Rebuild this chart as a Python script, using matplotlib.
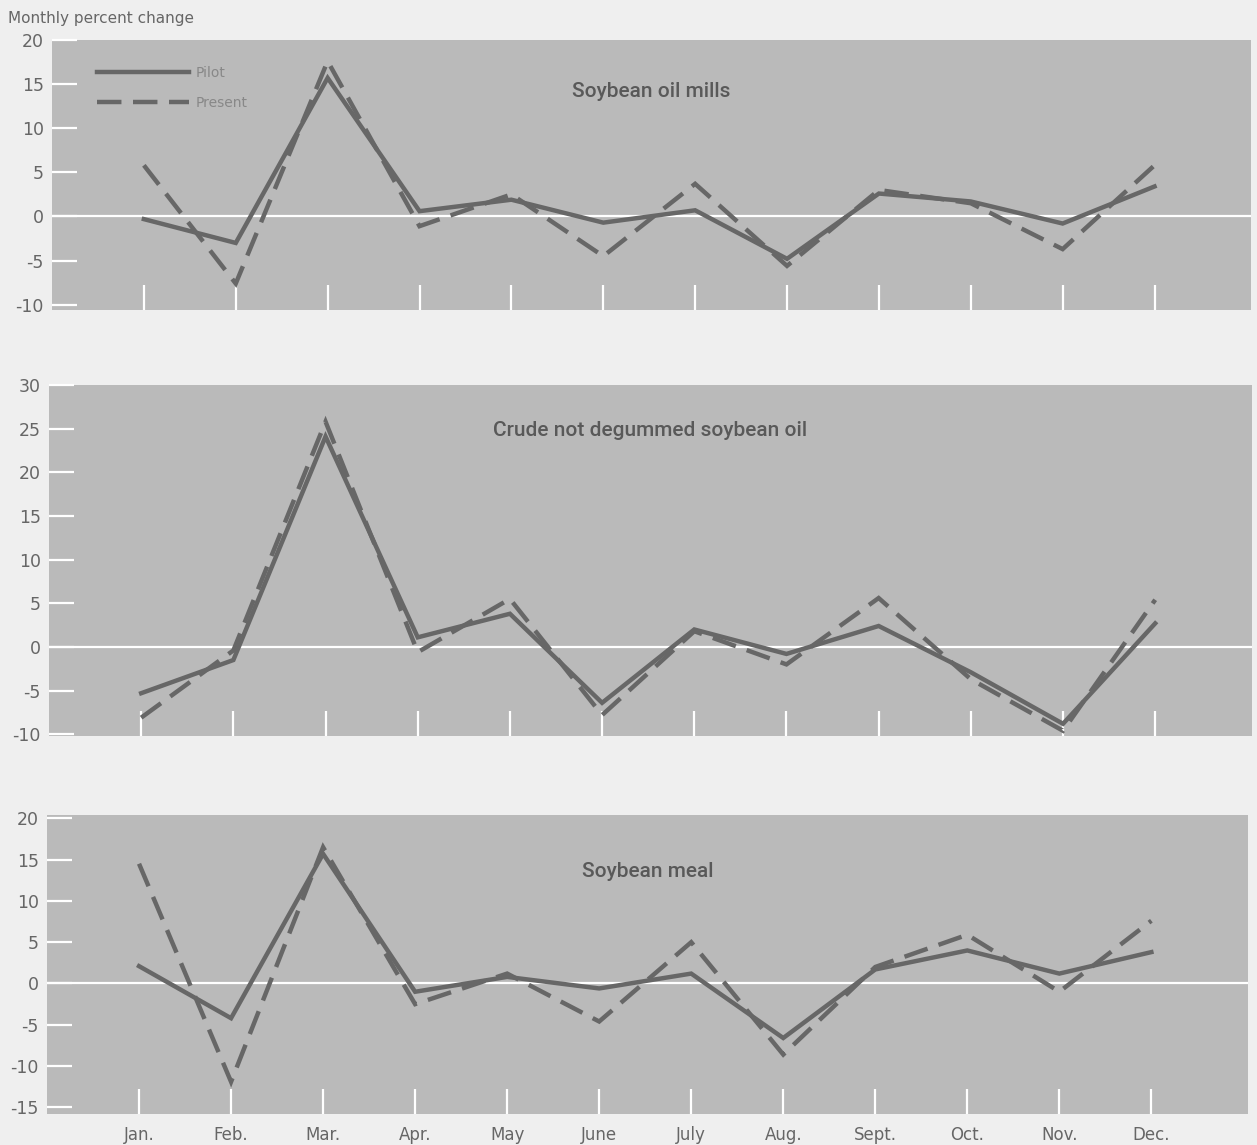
import matplotlib
matplotlib.use("Agg")
import matplotlib.pyplot as plt

# Month labels and series (monthly percent change)
months = ["Jan.", "Feb.", "Mar.", "Apr.", "May", "June",
          "July", "Aug.", "Sept.", "Oct.", "Nov.", "Dec."]

mills_pilot = [-0.3, -3.0, 15.7, 0.6, 1.9, -0.7, 0.7, -4.8, 2.6, 1.7, -0.8, 3.4]
mills_present = [5.8, -7.6, 17.6, -1.1, 2.5, -4.5, 3.7, -5.6, 3.0, 1.5, -3.7, 5.8]

crude_pilot = [-5.3, -1.5, 24.1, 1.1, 3.8, -6.4, 2.0, -0.8, 2.4, -2.9, -8.8, 2.7]
crude_present = [-8.1, -0.4, 25.8, -0.6, 5.5, -7.8, 1.8, -2.0, 5.6, -3.7, -9.6, 5.4]

meal_pilot = [2.1, -4.2, 15.7, -1.0, 0.8, -0.6, 1.2, -6.6, 1.7, 4.0, 1.2, 3.8]
meal_present = [14.5, -11.9, 16.5, -2.5, 1.2, -4.6, 5.0, -8.6, 2.0, 5.9, -1.0, 7.6]

titles = ["Soybean oil mills", "Crude not degummed soybean oil", "Soybean meal"]
yticks_top = [-10, -5, 0, 5, 10, 15, 20]
yticks_mid = [-10, -5, 0, 5, 10, 15, 20, 25, 30]
yticks_bot = [-15, -10, -5, 0, 5, 10, 15, 20]

W, H = 1257, 1145
FIG_BG = "#efefef"
PANEL_BG = "#bababa"
LINE = "#676767"
TEXT = "#666666"
TITLE_FONT = ["Roboto", "DejaVu Sans"]

fig = plt.figure(figsize=(W / 100, H / 100), dpi=100, facecolor=FIG_BG)


def panel(px_left, px_right, px_top, px_bottom):
    return fig.add_axes([px_left / W, 1 - px_bottom / H,
                         (px_right - px_left) / W, (px_bottom - px_top) / H])


panels = [
    (panel(52, 1251, 40, 310), mills_pilot, mills_present, yticks_top, (-10.6, 20.0), (0.50, 0.81)),
    (panel(49, 1252, 385, 736), crude_pilot, crude_present, yticks_mid, (-10.2, 29.8), (0.50, 0.87)),
    (panel(47, 1248, 815, 1114), meal_pilot, meal_present, yticks_bot, (-15.8, 20.4), (0.50, 0.81)),
]

x = list(range(len(months)))
for i, (ax, pilot, present, yt, ylim, tpos) in enumerate(panels):
    ax.set_facecolor(PANEL_BG)
    for s in ax.spines.values():
        s.set_visible(False)
    ax.axhline(0, color="white", lw=1.6, zorder=1)
    ax.plot(x, pilot, color=LINE, lw=3.2, solid_joinstyle="miter", zorder=3,
            label="Pilot")
    ax.plot(x, present, color=LINE, lw=3.2, linestyle=(0, (5.5, 2.6)),
            dash_joinstyle="miter", zorder=3, label="Present")
    ax.set_xlim(-1.0, 12.05)
    ax.set_ylim(*ylim)
    ax.set_yticks(yt)
    ax.set_yticklabels([str(v) for v in yt])
    ax.set_xticks(x)
    ax.tick_params(axis="y", direction="in", length=18, width=1.6, color="white",
                   pad=6, labelsize=12.5, labelcolor=TEXT)
    ax.tick_params(axis="x", direction="in", length=18, width=1.6, color="white",
                   pad=9, labelsize=12, labelcolor=TEXT)
    if i == 2:
        ax.set_xticklabels(months)
    else:
        ax.set_xticklabels([])
    ax.text(tpos[0], tpos[1], titles[i], transform=ax.transAxes, ha="center",
            va="center", fontsize=15, color="#595959", family=TITLE_FONT,
            fontweight="medium")

# Legend drawn in the first panel
leg = panels[0][0].legend(loc="upper left", bbox_to_anchor=(0.027, 0.95),
                          frameon=False, handlelength=6.6, handletextpad=0.5,
                          labelspacing=1.15, fontsize=10)
for t in leg.get_texts():
    t.set_color("#888888")

fig.text(8 / W, 1 - 18 / H, "Monthly percent change", ha="left", va="center",
         fontsize=11, color=TEXT)

fig.savefig("out.png", dpi=100, facecolor=FIG_BG)
